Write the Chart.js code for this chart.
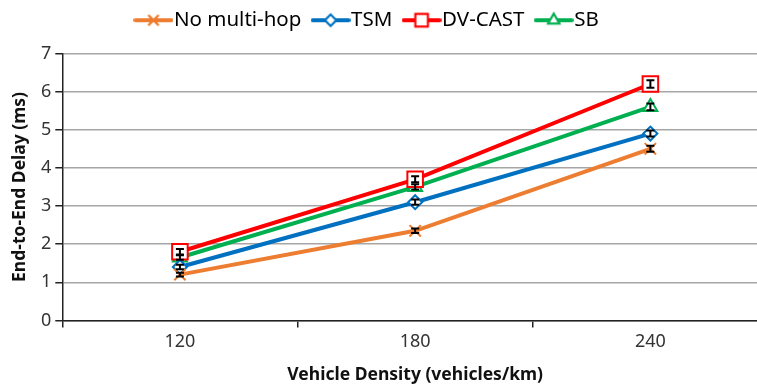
<!DOCTYPE html>
<html>
<head>
<meta charset="utf-8">
<script src="https://cdn.jsdelivr.net/npm/chart.js@4.4.0/dist/chart.umd.min.js"></script>
<style>
  html, body { margin: 0; padding: 0; background: #fff; overflow: hidden; }
  #clip { position: relative; width: 757px; height: 387px; overflow: hidden; }
  #chart { position: absolute; left: -26px; top: 0; }
</style>
</head>
<body>
<div id="clip"><canvas id="chart" width="794" height="387"></canvas></div>
<script>
// chart data
const densities = ['120', '180', '240'];
const noMultiHop = [1.2, 2.35, 4.5];
const tsm = [1.4, 3.1, 4.9];
const dvCast = [1.8, 3.7, 6.2];
const sb = [1.65, 3.5, 5.6];
// small error bars (half height, ms)
const noMultiHopErr = [0.05, 0.06, 0.08];
const tsmErr = [0.06, 0.07, 0.08];
const dvCastErr = [0.07, 0.08, 0.1];
const sbErr = [0.06, 0.07, 0.09];

const FONT = 'Noto Sans';

// legend sample: line with marker in the middle
function legendIcon(color, style, radius) {
    const c = document.createElement('canvas');
    c.width = 40; c.height = 20;
    const ctx = c.getContext('2d');
    ctx.strokeStyle = color;
    ctx.lineWidth = 4;
    ctx.lineCap = 'round';
    ctx.beginPath(); ctx.moveTo(2, 10); ctx.lineTo(38, 10); ctx.stroke();
    ctx.lineWidth = 2;
    Chart.helpers.drawPoint(ctx, {pointStyle: style, radius: radius, rotation: 0, borderWidth: 2}, 20, 10);
    if (style !== 'crossRot') { ctx.fillStyle = '#fff'; ctx.fill(); }
    ctx.stroke();
    return c;
}

const errorBars = {
    id: 'errorBars',
    afterDatasetsDraw(chart) {
        const ctx = chart.ctx;
        const y = chart.scales.y;
        ctx.save();
        ctx.strokeStyle = '#000';
        ctx.lineWidth = 2;
        chart.data.datasets.forEach((ds, i) => {
            const meta = chart.getDatasetMeta(i);
            meta.data.forEach((pt, j) => {
                const v = ds.data[j], e = ds.errors[j];
                const top = y.getPixelForValue(v + e), bot = y.getPixelForValue(v - e);
                ctx.beginPath();
                ctx.moveTo(pt.x, top); ctx.lineTo(pt.x, bot);
                ctx.moveTo(pt.x - 4, top); ctx.lineTo(pt.x + 4, top);
                ctx.moveTo(pt.x - 4, bot); ctx.lineTo(pt.x + 4, bot);
                ctx.stroke();
            });
        });
        ctx.restore();
    }
};

// a bit more room under the legend
const legendGap = {
    id: 'legendGap',
    beforeInit(chart) {
        const fit = chart.legend.fit;
        chart.legend.fit = function () {
            fit.call(this);
            this.height += 13;
        };
    }
};

function series(label, data, errors, color, style, radius, fill) {
    return {
        label: label,
        data: data,
        errors: errors,
        borderColor: color,
        backgroundColor: fill,
        borderWidth: 4,
        pointStyle: style,
        pointRadius: radius,
        pointBorderWidth: 2,
        pointBorderColor: color,
        pointBackgroundColor: fill,
        legendIcon: legendIcon(color, style, radius * 0.8),
        tension: 0
    };
}

new Chart(document.getElementById('chart'), {
    type: 'line',
    data: {
        labels: densities,
        datasets: [
            series('No multi-hop', noMultiHop, noMultiHopErr, '#ED7D31', 'crossRot', 8, 'rgba(0,0,0,0)'),
            series('TSM', tsm, tsmErr, '#0070C0', 'rectRot', 7, '#ffffff'),
            series('DV-CAST', dvCast, dvCastErr, '#FF0000', 'rect', 11, '#ffffff'),
            series('SB', sb, sbErr, '#00B050', 'triangle', 8, '#ffffff')
        ]
    },
    options: {
        responsive: false,
        animation: false,
        layout: { autoPadding: false, padding: { left: 0, right: 0, top: -9, bottom: 1 } },
        plugins: {
            tooltip: { enabled: false },
            legend: {
                position: 'top',
                labels: {
                    usePointStyle: true,
                    pointStyleWidth: 20.5,
                    padding: 19,
                    color: '#111',
                    font: { family: FONT, size: 20.5 },
                    generateLabels(chart) {
                        return chart.data.datasets.map((ds, i) => ({
                            text: ds.label,
                            pointStyle: ds.legendIcon,
                            fillStyle: ds.borderColor,
                            strokeStyle: ds.borderColor,
                            lineWidth: 0,
                            hidden: false,
                            datasetIndex: i
                        }));
                    }
                }
            }
        },
        scales: {
            x: {
                offset: true,
                grid: { display: true, offset: true, drawOnChartArea: false, drawTicks: true, tickLength: 7, color: '#222', lineWidth: 1.5 },
                border: { color: '#222', width: 1.5 },
                ticks: { color: '#333', font: { family: FONT, size: 18 }, padding: 4 },
                title: { display: true, text: 'Vehicle Density (vehicles/km)', color: '#111', font: { family: FONT, size: 17.5, weight: 'bold' }, padding: { top: 8, bottom: 0 } }
            },
            y: {
                min: 0,
                max: 7,
                ticks: { stepSize: 1, color: '#333', font: { family: FONT, size: 18 }, padding: 4 },
                grid: { color: '#a6a6a6', lineWidth: 1.5, tickLength: 7, tickColor: '#222' },
                border: { color: '#222', width: 1.5 },
                title: { display: true, text: 'End-to-End Delay (ms)', color: '#111', font: { family: FONT, size: 17.5, weight: 'bold' }, padding: { top: 36, bottom: 6 } }
            }
        }
    },
    plugins: [errorBars, legendGap]
});
</script>
</body>
</html>
